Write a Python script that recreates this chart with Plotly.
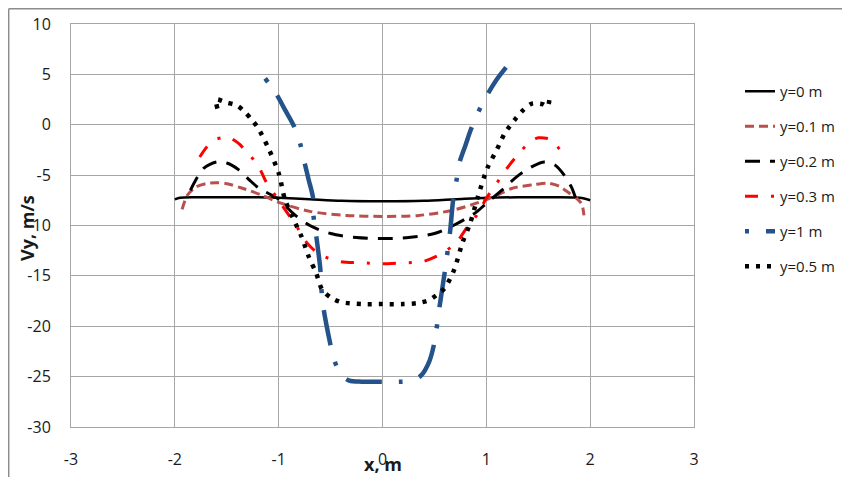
import plotly.graph_objects as go

# ---- data ----
x_y0 = [-2.0, -1.95, -1.8, -1.5, -1.2, -1.0, -0.7, -0.4, 0.0, 0.4, 0.7, 1.0, 1.3, 1.6, 1.9, 2.0]
v_y0 = [-7.4, -7.25, -7.2, -7.2, -7.2, -7.25, -7.4, -7.55, -7.6, -7.55, -7.4, -7.25, -7.2, -7.2, -7.25, -7.5]

x_y01 = [-1.93, -1.88, -1.8, -1.7, -1.6, -1.5, -1.35, -1.16, -1.0, -0.7, -0.35, 0.0, 0.35, 0.67, 0.93,
         1.1, 1.25, 1.45, 1.59, 1.7, 1.8, 1.88, 1.92, 1.94]
v_y01 = [-8.4, -7.0, -6.2, -5.85, -5.75, -5.85, -6.3, -7.0, -7.7, -8.6, -9.0, -9.1, -9.0, -8.5, -7.7,
         -7.0, -6.3, -5.95, -5.8, -6.1, -6.8, -7.4, -7.9, -9.0]

x_y02 = [-1.85, -1.8, -1.72, -1.6, -1.5, -1.38, -1.28, -1.19, -1.0, -0.85, -0.7, -0.5, -0.25, 0.0,
         0.25, 0.5, 0.7, 0.9, 1.0, 1.15, 1.3, 1.45, 1.56, 1.66, 1.75, 1.82, 1.86]
v_y02 = [-6.5, -5.5, -4.3, -3.7, -3.8, -4.5, -5.5, -6.3, -7.4, -8.9, -10.0, -10.8, -11.2, -11.3,
         -11.2, -10.8, -9.9, -8.7, -7.8, -6.5, -5.1, -4.1, -3.7, -4.0, -5.0, -6.2, -7.3]

x_y03 = [-1.76, -1.7, -1.64, -1.55, -1.47, -1.38, -1.31, -1.2, -1.12, -1.02, -0.92, -0.82, -0.73, -0.6,
         -0.4, -0.2, 0.0, 0.2, 0.38, 0.55, 0.71, 0.82, 0.92, 1.0, 1.1, 1.2, 1.31, 1.42, 1.5, 1.63, 1.71, 1.77]
v_y03 = [-3.2, -2.3, -1.6, -1.3, -1.3, -1.9, -2.7, -4.0, -5.7, -7.2, -8.7, -10.2, -11.7, -12.9,
         -13.6, -13.7, -13.8, -13.7, -13.6, -12.9, -11.7, -10.1, -8.8, -7.3, -5.8, -4.3, -2.9, -1.7, -1.3, -1.5, -2.5, -3.2]

x_y1 = [-1.13, -1.02, -0.94, -0.85, -0.79, -0.75, -0.71, -0.67, -0.665, -0.64, -0.6, -0.59, -0.57, -0.51,
        -0.47, -0.4, -0.32, -0.2, 0.0, 0.18, 0.3, 0.37, 0.45, 0.5, 0.55, 0.6, 0.65, 0.68, 0.71, 0.74,
        0.8, 0.85, 0.92, 1.01, 1.1, 1.19]
v_y1 = [4.6, 3.0, 1.5, -0.2, -2.0, -3.8, -5.5, -7.2, -9.0, -10.9, -14.2, -16.1, -18.1, -21.4,
        -23.2, -24.8, -25.4, -25.5, -25.5, -25.5, -25.3, -24.9, -23.5, -21.6, -18.0, -14.6, -10.7, -7.5, -5.7, -3.8,
        -2.0, -0.5, 1.2, 3.0, 4.5, 5.7]

x_y05 = [-1.59, -1.6, -1.5, -1.4, -1.33, -1.26, -1.2, -1.1, -1.0, -0.94, -0.87, -0.78, -0.71, -0.64,
         -0.58, -0.49, -0.4, -0.2, 0.0, 0.2, 0.34, 0.45, 0.52, 0.6, 0.69, 0.77, 0.84, 0.92, 1.01, 1.1,
         1.18, 1.29, 1.36, 1.44, 1.54, 1.59, 1.61]
v_y05 = [1.6, 2.5, 2.2, 1.9, 1.3, 0.5, -0.3, -2.3, -4.8, -7.4, -9.1, -11.1, -13.1, -14.7,
         -16.4, -17.2, -17.6, -17.8, -17.8, -17.8, -17.7, -17.4, -16.9, -16.2, -14.4, -11.7, -9.9, -7.1, -4.3, -2.5,
         -0.8, 0.7, 1.5, 2.1, 2.05, 1.8, 2.8]

series_names = ["y=0 m", "y=0.1 m", "y=0.2 m", "y=0.3 m", "y=1 m", "y=0.5 m"]
x_ticks = [-3, -2, -1, 0, 1, 2, 3]
y_ticks = [10, 5, 0, -5, -10, -15, -20, -25, -30]

# ---- styles ----
styles = [
    dict(color="#000000", width=2.5, dash="solid"),
    dict(color="#B9504D", width=3, dash="9px,5px"),
    dict(color="#000000", width=3, dash="15px,10px"),
    dict(color="#FF0000", width=3, dash="13px,13px,3px,13px"),
    dict(color="#24528A", width=4.5, dash="4px,17px,36px,17px"),
    dict(color="#000000", width=4.5, dash="4px,7px"),
]
xs = [x_y0, x_y01, x_y02, x_y03, x_y1, x_y05]
vs = [v_y0, v_y01, v_y02, v_y03, v_y1, v_y05]

fig = go.Figure()
for i, (name, xx, vv, st) in enumerate(zip(series_names, xs, vs, styles)):
    fig.add_trace(go.Scatter(
        x=xx, y=vv, name=name, mode="lines",
        line=dict(shape="spline", smoothing=0.8, **st),
        legendgroup=f"g{i}",
    ))

# page body has an 8px margin, so the figure is drawn 8px in from the window edge
OFF = 8
W, H = 850 - OFF, 477 - OFF
# plot area in window pixels
SL, SR, ST, SB = 71, 694, 24, 427
pw, ph = SR - SL, SB - ST

def px(xs_):
    return (xs_ - SL) / pw

def py(ys_):
    return (SB - ys_) / ph

font_family = "'Open Sans', 'Noto Sans', Arial, sans-serif"
grid = "#A6A6A6"

fig.update_layout(
    width=W, height=H,
    margin=dict(l=SL - OFF, r=W - (SR - OFF), t=ST - OFF, b=H - (SB - OFF), autoexpand=False),
    paper_bgcolor="white", plot_bgcolor="white",
    font=dict(family=font_family, size=16, color="#1a1a1a"),
    showlegend=True,
    legend=dict(
        x=px(740), y=py(75), xanchor="left", yanchor="top",
        font=dict(size=15, color="#1a1a1a"),
        tracegroupgap=12.5, traceorder="grouped",
        bgcolor="rgba(0,0,0,0)",
    ),
    xaxis=dict(
        range=[-3, 3], tickvals=x_ticks, ticktext=[str(v) for v in x_ticks],
        showgrid=True, gridcolor=grid, gridwidth=1, zeroline=False,
        showline=True, linecolor=grid, linewidth=1, mirror=True,
        ticks="", ticklabelstandoff=18, automargin=False,
    ),
    yaxis=dict(
        range=[-30, 10], tickvals=y_ticks, ticktext=[str(v) for v in y_ticks],
        showgrid=True, gridcolor=grid, gridwidth=1, zeroline=False,
        showline=True, linecolor=grid, linewidth=1, mirror=True,
        ticks="", ticklabelstandoff=16, automargin=False,
    ),
    annotations=[
        dict(text="<b>Vy, m/s</b>", xref="paper", yref="paper", x=px(27), y=py(228),
             textangle=-90, showarrow=False, font=dict(size=18, color="#1a1a1a"),
             xanchor="center", yanchor="middle"),
        dict(text="<b>x, m</b>", xref="paper", yref="paper", x=px(383), y=py(464),
             showarrow=False, font=dict(size=18, color="#1a1a1a"),
             xanchor="center", yanchor="middle"),
    ],
    shapes=[
        dict(type="line", xref="paper", yref="paper", x0=px(8.7), x1=px(850), y0=py(8.7), y1=py(8.7),
             line=dict(color="#8C8C8C", width=1.5)),
        dict(type="line", xref="paper", yref="paper", x0=px(8.7), x1=px(8.7), y0=py(8.7), y1=py(477),
             line=dict(color="#8C8C8C", width=1.5)),
    ],
)

fig.write_html("out.html")
